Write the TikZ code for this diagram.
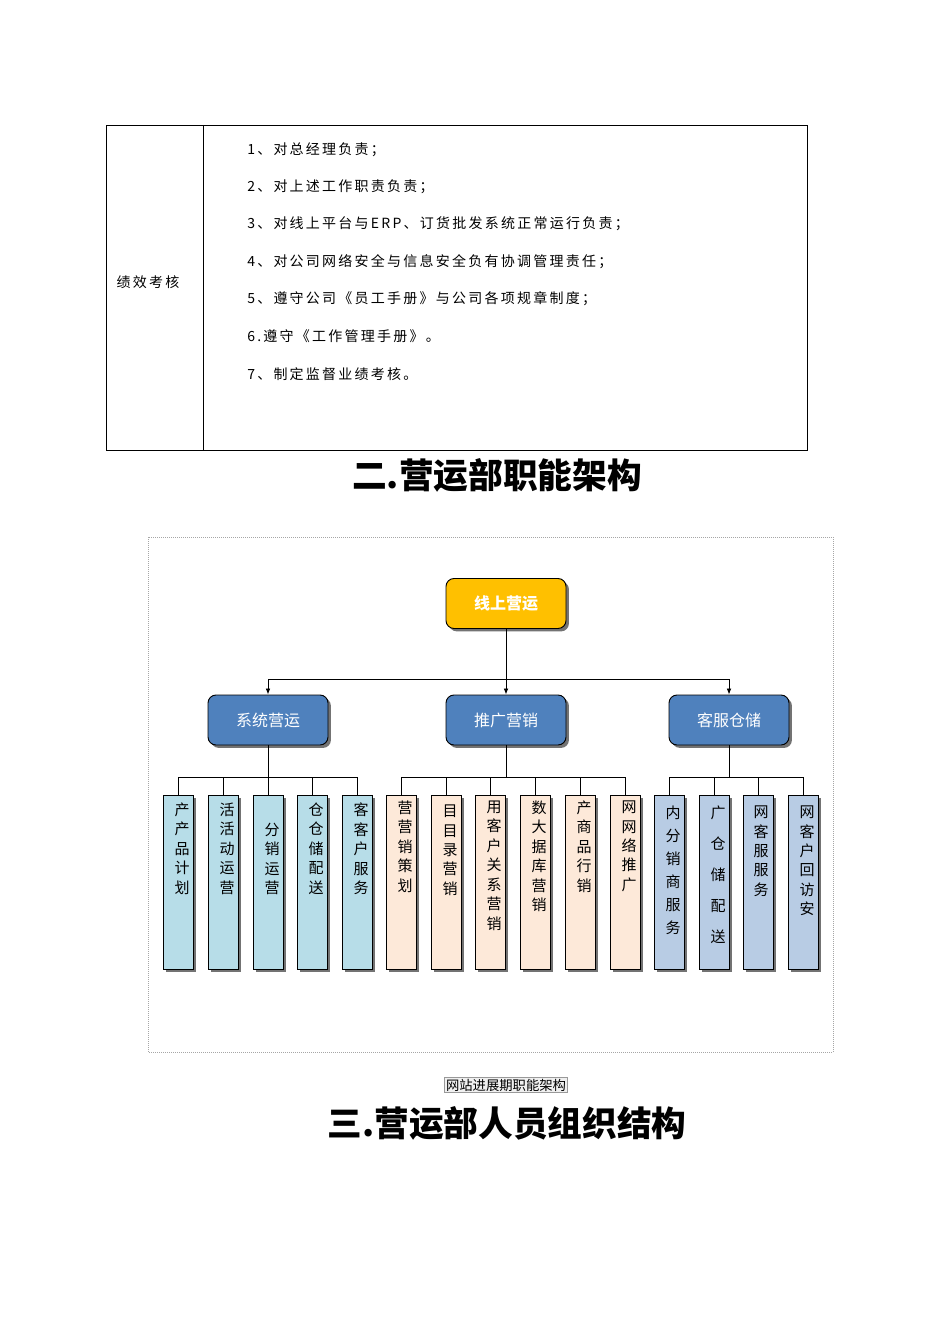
\documentclass[tikz,border=0pt]{standalone}
\usepackage{fontspec}
\newfontfamily\cjk{Noto Sans CJK SC}
\newfontfamily\cjksp{Noto Sans CJK SC}[LetterSpace=16]
\usetikzlibrary{positioning, calc, arrows.meta, shadows}
\definecolor{topgold}{HTML}{FFC000}
\definecolor{midblue}{HTML}{4F81BD}
\definecolor{leafcyan}{HTML}{B7DDE8}
\definecolor{leafpeach}{HTML}{FDE9D9}
\definecolor{leafsteel}{HTML}{B8CCE4}

\begin{document}
\begin{tikzpicture}[x=0.75pt, y=-0.75pt,
  >={Latex[length=4.5pt, width=3.5pt]},
  cell/.style      = {font=\cjksp\fontsize{10.5}{12}\selectfont, inner sep=0pt},
  heading/.style   = {font=\cjk\bfseries\fontsize{26}{30}\selectfont, inner sep=0pt},
  boxshadow/.style = {drop shadow={shadow xshift=2.2pt, shadow yshift=-2.2pt, fill=black!55, opacity=1}},
  head/.style      = {draw, line width=0.7pt, rounded corners=6pt, minimum width=90pt, minimum height=37.5pt,
                      boxshadow, text=white, font=\cjk\fontsize{12}{14}\selectfont},
  leaf/.style      = {draw, line width=0.6pt, minimum width=22.5pt, minimum height=130.5pt, inner sep=0pt, boxshadow},
  vtxt/.style      = {anchor=north, align=center, inner sep=0pt, font=\cjk\fontsize{11.25}{14.6}\selectfont},
  link/.style      = {line width=0.6pt},
]
  \path[use as bounding box, fill=white] (0,0) rectangle (950,1344);

  % duty table
  \draw[line width=0.7pt] (106,125) rectangle (807,450);
  \draw[line width=0.7pt] (203,125) -- (203,450);
  \node[cell] (perf) at (148,282) {绩效考核};
  \node[cell, anchor=west] (d1) at (247,150) {1、对总经理负责；};
  \node[cell, anchor=west] (d2) at (247,187) {2、对上述工作职责负责；};
  \node[cell, anchor=west] (d3) at (247,224) {3、对线上平台与ERP、订货批发系统正常运行负责；};
  \node[cell, anchor=west] (d4) at (247,262) {4、对公司网络安全与信息安全负有协调管理责任；};
  \node[cell, anchor=west] (d5) at (247,299) {5、遵守公司《员工手册》与公司各项规章制度；};
  \node[cell, anchor=west] (d6) at (247,336) {6.遵守《工作管理手册》。};
  \node[cell, anchor=west] (d7) at (247,374) {7、制定监督业绩考核。};

  \node[heading] (title2) at (497,475) {二.营运部职能架构};

  % org chart
  \draw[gray!70, densely dotted, line width=0.5pt] (148,537) rectangle (833,1052);

  \node[head, fill=topgold, font=\cjk\bfseries\fontsize{12}{14}\selectfont] (top) at (506,603.5) {线上营运};
  \node[head, fill=midblue] (mid1) at (268,720) {系统营运};
  \node[head, fill=midblue] (mid2) at (506,720) {推广营销};
  \node[head, fill=midblue] (mid3) at (729,720) {客服仓储};

  \coordinate (split) at (506,679);
  \draw[link, ->] (top) -- (mid2);
  \draw[link, ->] (split) -| (mid1.north);
  \draw[link, ->] (split) -| (mid3.north);

  \node[leaf, fill=leafcyan] (a1) at (178,882) {};
  \node[leaf, fill=leafcyan] (a2) at (223,882) {};
  \node[leaf, fill=leafcyan] (a3) at (268,882) {};
  \node[leaf, fill=leafcyan] (a4) at (312,882) {};
  \node[leaf, fill=leafcyan] (a5) at (357,882) {};

  \node[leaf, fill=leafpeach] (b1) at (401,882) {};
  \node[leaf, fill=leafpeach] (b2) at (446,882) {};
  \node[leaf, fill=leafpeach] (b3) at (490,882) {};
  \node[leaf, fill=leafpeach] (b4) at (535,882) {};
  \node[leaf, fill=leafpeach] (b5) at (580,882) {};
  \node[leaf, fill=leafpeach] (b6) at (625,882) {};

  \node[leaf, fill=leafsteel] (c1) at (669,882) {};
  \node[leaf, fill=leafsteel] (c2) at (714,882) {};
  \node[leaf, fill=leafsteel] (c3) at (758,882) {};
  \node[leaf, fill=leafsteel] (c4) at (803,882) {};

  \coordinate (busA) at (268,777);
  \coordinate (busB) at (506,777);
  \coordinate (busC) at (729,777);
  \draw[link] (mid1) -- (busA);
  \draw[link] (mid2) -- (busB);
  \draw[link] (mid3) -- (busC);
  \foreach \n in {a1,a2,a3,a4,a5} \draw[link] (busA) -| (\n.north);
  \foreach \n in {b1,b2,b3,b4,b5,b6} \draw[link] (busB) -| (\n.north);
  \foreach \n in {c1,c2,c3,c4} \draw[link] (busC) -| (\n.north);

  \node[vtxt] (a1t) at ($(a1.north)+(4,8)$)  {产\\产\\品\\计\\划};
  \node[vtxt] (a2t) at ($(a2.north)+(4,8)$)  {活\\活\\动\\运\\营};
  \node[vtxt] (a3t) at ($(a3.north)+(4,28)$) {分\\销\\运\\营};
  \node[vtxt] (a4t) at ($(a4.north)+(4,8)$)  {仓\\仓\\储\\配\\送};
  \node[vtxt] (a5t) at ($(a5.north)+(4,8)$)  {客\\客\\户\\服\\务};

  \node[vtxt] (b1t) at ($(b1.north)+(4,6)$)  {营\\营\\销\\策\\划};
  \node[vtxt] (b2t) at ($(b2.north)+(4,10)$) {目\\目\\录\\营\\销};
  \node[vtxt] (b3t) at ($(b3.north)+(4,6)$)  {用\\客\\户\\关\\系\\营\\销};
  \node[vtxt] (b4t) at ($(b4.north)+(4,6)$)  {数\\大\\据\\库\\营\\销};
  \node[vtxt] (b5t) at ($(b5.north)+(4,6)$)  {产\\商\\品\\行\\销};
  \node[vtxt] (b6t) at ($(b6.north)+(4,6)$)  {网\\网\\络\\推\\广};

  \node[vtxt, font=\cjk\fontsize{11.25}{17.25}\selectfont] (c1t) at ($(c1.north)+(4,11)$) {内\\分\\销\\商\\服\\务};
  \node[vtxt, font=\cjk\fontsize{11.25}{23.25}\selectfont] (c2t) at ($(c2.north)+(4,11)$) {广\\仓\\储\\配\\送};
  \node[vtxt] (c3t) at ($(c3.north)+(3,11)$) {网\\客\\服\\服\\务};
  \node[vtxt] (c4t) at ($(c4.north)+(4,11)$) {网\\客\\户\\回\\访\\安};

  \node[draw=gray!80, fill=gray!12, inner sep=1pt, font=\cjk\fontsize{10}{12}\selectfont] (cap) at (506,1085) {网站进展期职能架构};

  \node[heading] (title3) at (507,1123) {三.营运部人员组织结构};
\end{tikzpicture}
\end{document}
